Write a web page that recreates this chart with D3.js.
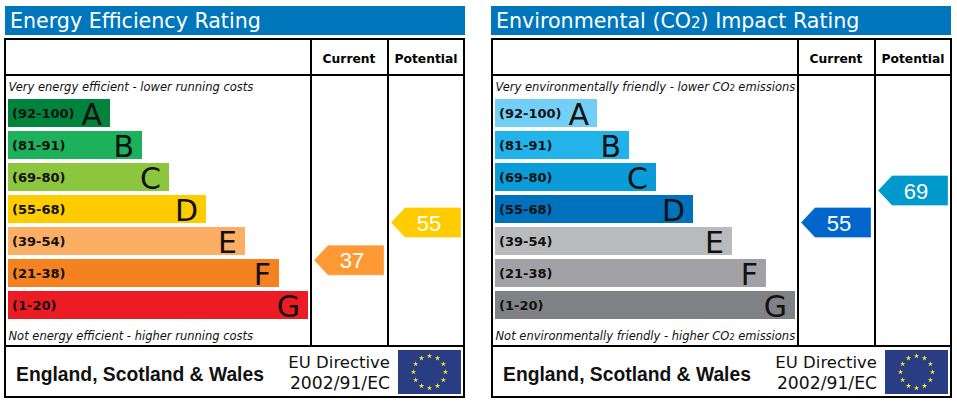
<!DOCTYPE html>
<html>
<head>
<meta charset="utf-8">
<script src="https://cdn.jsdelivr.net/npm/d3@7"></script>
<style>
  html, body { margin: 0; padding: 0; background: #fff; }
  svg { display: block; }
  text { font-family: "DejaVu Sans", sans-serif; }
</style>
</head>
<body>
<svg id="chart" width="957" height="404"></svg>
<script>
// bands, top to bottom
const bandLabels = ['(92-100)', '(81-91)', '(69-80)', '(55-68)', '(39-54)', '(21-38)', '(1-20)']
const bandLetters = ['A', 'B', 'C', 'D', 'E', 'F', 'G']
const bandLow = [92, 81, 69, 55, 39, 21, 1]
const bandHigh = [100, 91, 80, 68, 54, 38, 20]
const barLengths = [102, 134, 161, 198, 237, 271, 300]

const energyColors = ['#00843d', '#1db15b', '#8cc63f', '#ffcc00', '#fbae64', '#f58220', '#ed1c24']
const co2Colors = ['#73cff5', '#22b3ea', '#0a9cd8', '#0071bc', '#b9babc', '#a2a1a5', '#808184']

const energyRatings = [
  { column: 'Current', value: 37, color: '#ff9933' },
  { column: 'Potential', value: 55, color: '#ffcc00' }
]
const co2Ratings = [
  { column: 'Current', value: 55, color: '#0066cc' },
  { column: 'Potential', value: 69, color: '#0099cc' }
]

const panels = [
  {
    x: 5, titleX: 0, title: ['Energy Efficiency Rating'], colors: energyColors, ratings: energyRatings,
    top: ['Very energy efficient - lower running costs'],
    bottom: ['Not energy efficient - higher running costs']
  },
  {
    x: 492, titleX: -1, title: ['Environmental (CO', '2', ') Impact Rating'], colors: co2Colors, ratings: co2Ratings,
    top: ['Very environmentally friendly - lower CO', '2', ' emissions'],
    bottom: ['Not environmentally friendly - higher CO', '2', ' emissions']
  }
]

// rating -> y, each band has its own stretch with gaps in between
const bandY = d3.scaleBand().domain(bandLetters).range([97, 321]).paddingInner(0.125).paddingOuter(0.0625)
const yDomain = [], yRange = []
bandLetters.forEach((l, i) => {
  yDomain.push(bandLow[i], bandHigh[i])
  yRange.push(bandY(l) + bandY.bandwidth(), bandY(l))
})
const order = d3.range(yDomain.length).sort((a, b) => yDomain[a] - yDomain[b])
const ratingY = d3.scaleLinear().domain(order.map(i => yDomain[i])).range(order.map(i => yRange[i]))
const barX = d3.scaleLinear().domain([0, 300]).range([3, 303])
const columnX = d3.scaleOrdinal().domain(['Current', 'Potential']).range([309, 386])

const svg = d3.select('#chart')

// text with a small subscript part every second piece
function richText(sel, parts, subSize) {
  parts.forEach((p, i) => {
    const t = sel.append('tspan').text(p)
    if (i === 1) t.attr('font-size', subSize)
  })
}

function flag(g) {
  g.append('rect').attr('width', 63).attr('height', 44).attr('fill', '#293d85')
  const star = d3.symbol().type(d3.symbolStar).size(9)
  g.selectAll('path').data(d3.range(12)).join('path')
    .attr('d', star)
    .attr('fill', '#f5e32a')
    .attr('transform', d => {
      const a = d / 12 * 2 * Math.PI
      return `translate(${31.5 + 16 * Math.sin(a)},${22 - 16 * Math.cos(a)})`
    })
}

panels.forEach(p => {
  const g = svg.append('g').attr('transform', `translate(${p.x},0)`)

  g.append('rect').attr('x', p.titleX).attr('y', 6).attr('width', 460).attr('height', 29).attr('fill', '#0076bd')
  g.append('text').attr('x', 5 + p.titleX).attr('y', 28).attr('fill', '#fff').attr('font-size', 20.6)
    .call(richText, p.title, 15)

  // frame
  g.append('rect').attr('x', 0).attr('y', 39).attr('width', 459).attr('height', 358)
    .attr('fill', 'none').attr('stroke', '#000').attr('stroke-width', 2)
  g.selectAll('line.h').data([75, 346]).join('line').attr('class', 'h')
    .attr('x1', 0).attr('x2', 459).attr('y1', d => d).attr('y2', d => d)
    .attr('stroke', '#000').attr('stroke-width', 2)
  g.selectAll('line.v').data(columnX.range()).join('line').attr('class', 'v')
    .attr('x1', d => d - 3).attr('x2', d => d - 3).attr('y1', 39).attr('y2', 346)
    .attr('stroke', '#000').attr('stroke-width', 2)

  g.selectAll('text.col').data(columnX.domain()).join('text').attr('class', 'col')
    .attr('x', d => columnX(d) + 35).attr('y', 63)
    .attr('text-anchor', 'middle').attr('font-size', 12.3).attr('font-weight', 'bold')
    .text(d => d)

  g.append('text').attr('x', 3.5).attr('y', 91).attr('font-size', 11.5).attr('font-style', 'italic')
    .attr('fill', '#111').call(richText, p.top, 8)
  g.append('text').attr('x', 3.5).attr('y', 340).attr('font-size', 11.5).attr('font-style', 'italic')
    .attr('fill', '#111').call(richText, p.bottom, 8)

  // bars
  const bars = g.selectAll('g.bar').data(bandLetters).join('g').attr('class', 'bar')
    .attr('transform', d => `translate(${barX(0)},${bandY(d)})`)
  bars.append('rect')
    .attr('width', (d, i) => barX(barLengths[i]) - barX(0))
    .attr('height', bandY.bandwidth())
    .attr('fill', (d, i) => p.colors[i])
  bars.append('text').attr('x', 4).attr('y', 19).attr('font-size', 13).attr('font-weight', 'bold')
    .attr('fill', '#111').text((d, i) => bandLabels[i])
  bars.append('text')
    .attr('x', (d, i) => barX(barLengths[i]) - barX(0) - 8).attr('y', 26)
    .attr('text-anchor', 'end').attr('font-size', 30).attr('fill', '#111')
    .text(d => d)

  // rating arrows
  const arrows = g.selectAll('g.arrow').data(p.ratings).join('g').attr('class', 'arrow')
    .attr('transform', d => `translate(${columnX(d.column)},${ratingY(d.value) - 0.5})`)
  arrows.append('path')
    .attr('d', 'M0,0L14,-15H70V15H14Z')
    .attr('fill', d => d.color)
    .attr('stroke', '#fff').attr('stroke-opacity', 0.3)
  arrows.append('text').attr('x', 38).attr('y', 8)
    .attr('text-anchor', 'middle').attr('fill', '#fff').attr('font-size', 22)
    .style('font-family', '"Liberation Sans", sans-serif')
    .text(d => d.value)

  // footer
  g.append('text').attr('x', 135).attr('y', 381).attr('text-anchor', 'middle')
    .attr('font-size', 19.3).attr('font-weight', 'bold').attr('fill', '#111')
    .style('font-family', '"Liberation Sans", sans-serif')
    .text('England, Scotland & Wales')
  g.selectAll('text.eu').data(['EU Directive', '2002/91/EC']).join('text').attr('class', 'eu')
    .attr('x', 385).attr('y', (d, i) => 368 + i * 21)
    .attr('text-anchor', 'end').attr('font-size', (d, i) => i ? 17.2 : 16.5).attr('fill', '#111')
    .text(d => d)
  g.append('g').attr('transform', 'translate(393,350)').call(flag)
})
</script>
</body>
</html>
